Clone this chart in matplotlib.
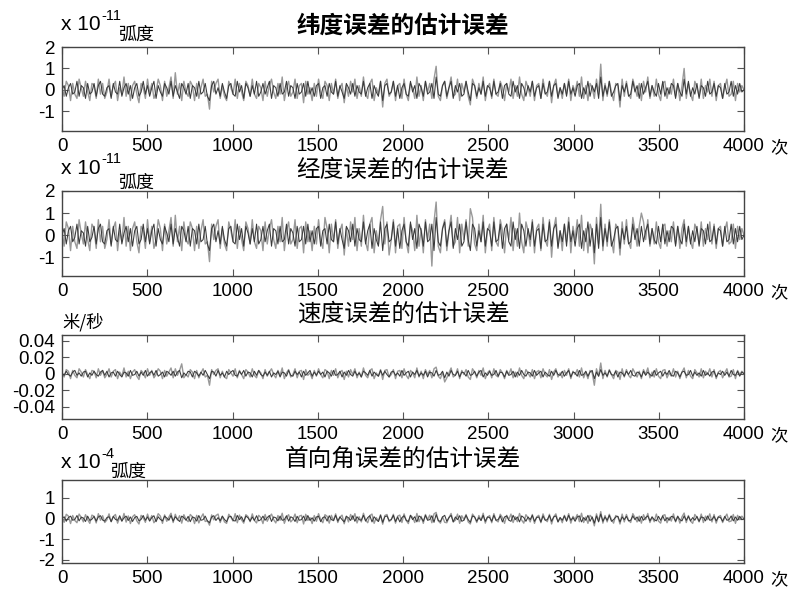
import numpy as np
import matplotlib
matplotlib.use("Agg")
import matplotlib.pyplot as plt

plt.rcParams['font.family'] = ['Liberation Sans', 'Noto Sans CJK SC', 'DejaVu Sans']
plt.rcParams['axes.unicode_minus'] = False

# ---------------- data (subsampled) ----------------
# panel 1: latitude error estimate error, units of 0.1 x 1e-11 rad
lat_gray = [
    1,-3,4,2,-5,3,-2,-4,5,1,-3,4,-1,-5,3,2,-4,5,-2,3,
    -4,-1,5,-3,2,4,-5,1,-2,6,-3,3,-5,2,4,-2,-6,3,1,-4,
    5,-2,3,-4,-1,5,2,-5,4,-3,1,6,-4,8,-2,3,-5,4,-1,-3,
    4,2,-5,3,-4,1,5,-3,-2,-9,4,-1,3,5,-4,2,-3,-5,4,1,
    -2,5,-4,3,-1,-5,4,2,-3,5,-2,-4,3,1,-5,4,-3,2,5,-1,
    -4,3,-2,6,-5,1,4,-3,-1,5,-4,2,3,-6,4,-2,1,-5,3,-3,
    5,-1,-4,4,2,-5,3,-2,5,-4,1,3,-6,2,-3,4,-1,5,-4,2,
    -3,6,-2,-4,3,5,-5,1,-2,4,-8,3,5,-3,-1,4,-5,2,3,-4,
    5,-2,-5,3,1,-4,6,-3,2,-5,4,-1,3,-4,5,11,-3,-5,2,4,
    -4,1,6,-3,-2,5,-5,3,-1,4,-3,-7,5,2,-4,3,-2,6,-5,1,
    3,-4,5,-2,-3,4,1,-5,3,-1,5,-4,2,-3,6,-2,-5,4,1,-3,
    4,-5,2,3,-4,5,-1,-3,4,-6,2,5,-3,1,-4,3,-2,5,-5,2,
    -1,4,-3,6,-4,2,-5,3,1,-4,5,-2,12,-5,3,-3,4,-1,-5,3,
    2,-8,5,-3,4,-2,-4,5,1,-3,3,-5,4,-1,6,-4,2,-3,5,-2,
    -5,3,4,-4,1,-2,5,-3,3,-5,2,10,-4,3,-2,-5,4,1,-3,5,
    -4,2,-1,5,-3,4,-5,2,3,-4,1,5,-3,-2,4,-5,3,-1,2,0]
lat_black = [
    0,2,-3,1,3,-2,-1,4,-3,2,1,-4,3,-2,-1,3,-3,2,4,-2,
    -3,1,2,-4,3,-1,-2,4,-3,1,3,-2,2,-4,1,3,-3,-1,4,-2,
    2,-3,1,4,-4,2,-1,-3,3,1,-2,4,-3,2,-1,-4,3,1,-2,3,
    -4,2,1,-3,4,-2,-1,3,-3,-5,2,4,-2,1,-3,3,-1,-4,2,3,
    -2,-3,4,-1,2,-4,3,1,-3,2,-2,4,-3,-1,3,-2,1,4,-4,2,
    1,-3,3,-2,-1,4,-3,2,1,-4,3,-2,-1,3,-3,4,-2,1,-3,2,
    3,-4,1,2,-3,3,-1,-2,4,-3,2,-1,-4,3,1,-2,3,-3,2,-1,
    -2,4,-3,1,3,-4,2,-1,-3,4,-5,2,3,-2,-1,4,-3,2,-4,1,
    3,-2,-3,4,-1,2,-4,3,1,-3,4,-2,-1,3,-4,6,-2,-3,2,4,
    -3,1,4,-4,2,-1,3,-3,-2,4,-1,-5,3,2,-3,1,-2,4,-3,2,
    1,-3,4,-2,-1,3,-4,2,3,-2,-3,4,-1,2,-4,3,1,-3,2,-1,
    4,-3,1,2,-4,3,-2,-1,4,-3,2,3,-4,1,-2,3,-3,4,-2,1,
    -3,2,3,-4,1,-2,4,-3,2,-1,3,-4,6,-3,2,-2,4,-3,-1,2,
    3,-5,2,-1,3,-3,-2,4,-1,2,-4,3,-2,1,4,-3,2,-1,-3,3,
    -2,4,-3,1,-2,3,2,-4,3,-1,-3,5,-2,4,-3,1,-2,3,-4,2,
    1,-3,4,-2,-1,3,-3,2,1,-4,3,-2,-1,4,-3,2,-2,3,-1,0]
# panel 2: longitude error estimate error, units of 0.1 x 1e-11 rad
lon_gray = [
    2,-5,6,3,-7,4,-3,-6,7,1,-4,6,-2,-7,5,3,-6,7,-3,4,
    -6,-2,7,-4,3,6,-7,2,-3,8,-5,4,-7,3,6,-3,-8,4,2,-6,
    7,-3,4,-6,-2,7,3,-7,5,-4,2,8,-5,9,-3,4,-7,6,-2,-4,
    6,3,-7,4,-6,2,7,-4,-3,-12,5,-2,4,7,-6,3,-4,-7,6,2,
    -3,7,-6,4,-2,-7,6,3,-4,7,-3,-6,4,2,-7,6,-4,3,7,-2,
    -6,4,-3,8,-7,2,6,-4,-2,7,-6,3,4,-8,6,-3,2,-7,4,-4,
    7,-2,-6,8,3,-8,5,-3,7,-6,2,5,-9,3,-5,6,-2,8,-7,3,
    -5,9,-3,-7,5,8,-8,2,-4,7,13,-4,6,-9,-2,7,-8,4,5,-6,
    8,-3,-8,5,2,-7,9,-5,3,-8,7,-2,5,-14,6,15,-5,-8,3,7,
    -7,2,9,-5,-3,8,-8,5,-2,7,-5,12,8,-4,-7,5,-3,9,-8,2,
    5,-7,8,-3,-5,7,2,-8,5,-2,8,-7,3,-5,10,-3,-8,6,2,-5,
    7,-8,3,5,-7,8,-2,-5,7,-10,3,8,-5,2,-7,5,-3,8,-8,4,
    -2,7,-5,9,-7,3,-8,5,2,-13,8,-4,14,-7,5,-5,7,-2,-8,5,
    3,-9,6,-4,7,-3,-6,8,2,-5,4,10,6,-2,7,-5,3,-4,6,-3,
    -6,4,5,-5,2,-3,6,-4,4,-6,3,7,-5,4,-3,-6,5,2,-4,6,
    -5,3,-2,6,-4,5,-6,3,4,-5,2,6,-4,-3,5,-6,4,-2,3,0]
lon_black = [
    0,3,-4,2,4,-3,-1,5,-4,2,1,-5,4,-3,-1,4,-4,3,5,-3,
    -4,2,3,-5,4,-2,-3,5,-4,1,4,-3,3,-5,2,4,-4,-2,5,-3,
    3,-4,2,5,-5,3,-2,-4,4,1,-3,5,-4,3,-1,-5,4,2,-3,4,
    -5,3,2,-4,5,-3,-2,4,-4,-7,3,5,-3,2,-4,4,-2,-5,3,4,
    -3,-4,5,-2,3,-5,4,1,-4,3,-3,5,-4,-2,4,-3,2,5,-5,3,
    2,-4,4,-3,-2,5,-4,3,1,-5,4,-3,-2,4,-4,5,-3,2,-4,3,
    4,-5,2,3,-4,5,-2,-3,6,-4,3,-2,-6,4,2,-3,5,-5,3,-2,
    -3,6,-4,2,5,-6,3,-2,-5,6,-7,3,5,-3,-2,6,-5,3,-6,2,
    5,-3,-5,6,-2,3,-6,5,2,-5,6,-3,-2,5,-7,8,-3,-5,3,6,
    -5,2,6,-6,3,-2,5,-5,-3,6,-2,-7,5,3,-5,2,-3,6,-5,3,
    2,-5,6,-3,-2,5,-6,3,5,-3,-5,6,-2,3,-6,5,2,-5,3,-2,
    6,-5,2,3,-6,5,-3,-2,6,-5,3,5,-6,2,-3,5,-5,6,-3,2,
    -5,3,5,-6,2,-3,6,-5,3,-8,5,-6,8,-5,3,-3,6,-5,-2,3,
    4,-6,3,-2,4,-4,-3,5,-2,3,-5,4,-3,2,5,-4,3,-2,-4,4,
    -3,5,-4,2,-3,4,3,-5,4,-2,-4,5,-3,4,-4,2,-3,4,-5,3,
    2,-4,5,-3,-2,4,-4,3,2,-5,4,-3,-2,5,-4,3,-3,4,-2,0]
# panel 3: velocity error estimate error, units of 1e-3 m/s
vel_gray = [
    1,-4,5,3,-6,4,-2,-5,6,2,-4,5,-1,-6,4,3,-5,6,-2,4,
    -5,-1,6,-4,3,5,-6,2,-3,7,-4,3,-6,2,5,-3,-7,4,1,-5,
    6,-2,4,-5,-1,6,3,-6,4,-3,2,7,-5,6,-2,4,12,-5,-1,-4,
    5,2,-6,4,-5,1,6,-4,-2,-14,5,-1,4,6,-5,3,-4,-6,5,1,
    -3,6,-5,4,-1,-6,5,2,-4,6,-2,-5,4,1,-6,5,-3,2,6,-1,
    -5,4,-2,7,-6,1,5,-4,-1,6,-5,3,4,-7,5,-2,1,-6,4,-3,
    6,-1,-5,5,3,-6,4,-2,6,-5,2,4,-7,3,-4,5,-1,6,-5,2,
    -4,7,-2,-5,4,6,-6,1,-3,5,-7,4,5,-4,-1,5,-6,3,4,-5,
    6,-2,-6,4,1,-5,7,-4,3,-6,5,-1,4,-5,6,8,-3,-6,2,-10,
    -5,1,7,-4,-2,6,-6,4,-1,5,-4,-7,6,2,-5,4,-2,7,-6,1,
    4,-5,6,-2,-4,5,1,-6,4,-1,6,-5,2,-4,7,-2,-6,5,1,-4,
    5,-6,2,4,-5,6,-1,-4,5,-7,2,6,-4,1,-5,4,-2,6,-6,3,
    -1,5,-4,7,-5,2,-6,4,1,-14,6,-3,13,-6,4,-4,5,-1,-6,4,
    2,-7,6,-4,5,-2,-5,6,1,-4,3,-6,5,-1,7,-5,2,-4,6,-3,
    -6,4,5,-5,1,-3,6,-4,3,-6,2,7,-5,4,-3,-6,5,1,-4,6,
    -5,3,-1,6,-4,5,-6,2,4,-5,1,6,-4,-3,5,-6,4,-1,3,0]
vel_black = [
    1,-2,3,-1,-3,2,4,-2,1,-3,2,3,-4,1,-2,3,-1,-3,2,4,
    -2,3,-4,1,2,-3,3,-1,-4,2,1,-3,4,-2,-1,3,-3,2,-2,4,
    -3,1,3,-2,4,-3,-1,2,-4,3,1,-2,3,-3,2,4,-5,1,-2,3,
    2,-4,3,1,-3,2,-2,4,-1,-6,3,2,-3,4,-2,1,-4,3,-1,2,
    4,-2,-3,3,-1,4,-3,2,1,-4,3,-2,4,-1,-3,2,-2,3,-4,1,
    -1,3,-4,2,1,-3,4,-2,-3,3,-1,2,-4,3,-2,1,4,-3,2,-2,
    3,-1,2,-4,3,1,-3,4,-2,-1,3,-4,2,-2,4,-1,-3,3,-2,1,
    -4,3,1,-2,4,-3,2,-1,-3,4,-2,3,-1,-4,2,3,-2,1,-3,4,
    -2,1,3,-4,2,-1,4,-3,1,-2,3,-4,2,1,-3,4,-2,-1,3,-5,
    2,-3,4,-1,-2,3,-4,2,1,-3,4,-2,-1,3,-3,2,4,-4,1,-2,
    3,-2,-1,4,-3,2,1,-4,3,-2,-1,3,-4,2,-2,4,-1,-3,2,1,
    -3,4,-2,1,3,-4,2,-1,-3,3,-2,4,-1,-2,3,-3,1,4,-4,2,
    1,-3,4,-2,-1,3,-3,2,4,-6,2,-3,5,-2,1,-3,4,-1,-2,3,
    -4,2,1,-3,3,-1,4,-2,-3,2,1,-4,3,-2,2,-1,-3,4,-2,1,
    3,-3,2,-1,4,-2,-3,3,1,-4,2,3,-2,-1,4,-3,2,-2,1,-3,
    4,-2,1,-3,2,3,-4,1,-1,3,-2,2,-3,4,-1,-2,3,-3,2,0]
# panel 4: heading error estimate error, units of 1e-6 rad (0.01 x 1e-4)
hdg_gray = [
    8,-18,21,12,-24,15,-9,-20,22,6,-16,19,-5,-23,17,11,-21,24,-8,14,
    -19,-6,23,-15,10,20,-22,7,-12,25,-17,13,-24,9,19,-11,-26,16,4,-18,
    22,-9,15,-20,-5,24,12,-23,18,-13,8,26,-19,21,-7,14,-22,19,-4,-15,
    20,9,-24,16,-21,5,23,-14,-10,-32,18,-6,15,22,-19,11,-16,-23,21,7,
    -12,24,-20,17,-6,-22,19,10,-15,23,-9,-21,16,5,-24,20,-13,8,22,-5,
    -21,15,-8,26,-23,6,19,-16,-4,22,-20,12,16,-26,21,-9,5,-24,15,-13,
    24,-5,-20,19,11,-22,16,-10,23,-19,7,17,-25,12,-16,20,-4,24,-21,9,
    -16,26,-7,-20,15,22,-23,5,-12,19,-27,15,20,-15,-5,21,-22,12,17,-19,
    23,-9,-24,16,6,-19,25,-15,11,-23,20,-5,17,-20,23,30,-11,-22,9,-18,
    -20,5,25,-16,-8,22,-23,14,-5,20,-16,-26,22,8,-19,15,-9,26,-22,6,
    15,-20,24,-8,-16,21,5,-23,16,-4,22,-19,9,-15,25,-7,-22,19,4,-16,
    20,-23,8,16,-20,23,-5,-15,21,-26,9,23,-16,5,-20,16,-9,24,-22,11,
    -4,20,-15,26,-19,8,-23,16,5,-35,23,-12,34,-22,15,-16,21,-5,-22,15,
    9,-26,22,-16,20,-8,-19,24,5,-16,12,-22,19,-5,25,-19,8,-15,22,-12,
    -22,15,19,-20,6,-12,23,-16,12,-22,9,27,-19,15,-12,-23,20,5,-16,22,
    -19,12,-5,23,-16,20,-22,9,15,-19,5,22,-15,-12,20,-23,16,-5,12,0]
hdg_black = [
    0,9,-13,5,12,-8,-4,15,-11,7,3,-14,12,-9,-3,11,-12,8,14,-7,
    -12,5,9,-15,11,-4,-8,14,-12,4,12,-9,8,-14,5,11,-11,-4,15,-8,
    8,-12,5,14,-15,9,-4,-11,12,3,-8,15,-12,9,-3,-14,12,5,-8,11,
    -15,8,4,-12,15,-8,-5,12,-11,-20,8,14,-9,5,-11,12,-4,-15,8,11,
    -8,-12,15,-5,9,-14,12,4,-12,8,-9,14,-11,-5,12,-8,5,15,-14,8,
    4,-11,12,-8,-5,14,-12,9,3,-14,11,-8,-5,12,-11,15,-9,4,-12,8,
    11,-15,5,9,-12,14,-5,-9,16,-12,8,-5,-16,11,4,-9,14,-13,9,-5,
    -8,16,-12,5,14,-16,9,-5,-14,16,-18,9,13,-9,-5,16,-14,8,-16,5,
    14,-8,-14,16,-5,9,-16,13,5,-13,16,-8,-5,14,-18,20,-9,-14,8,16,
    -13,5,16,-16,8,-5,14,-13,-8,16,-5,-18,13,8,-13,5,-9,16,-13,8,
    5,-13,16,-8,-5,13,-16,8,13,-8,-13,16,-5,8,-16,13,5,-13,8,-5,
    16,-13,5,8,-16,13,-8,-5,16,-13,8,13,-16,5,-8,13,-13,16,-8,5,
    -13,8,13,-16,5,-8,16,-13,8,-22,13,-16,22,-13,8,-8,16,-13,-5,8,
    11,-16,8,-5,11,-11,-8,13,-5,8,-13,11,-8,5,13,-11,8,-5,-11,11,
    -8,13,-11,5,-8,11,8,-13,11,-5,-11,13,-8,11,-11,5,-8,11,-13,8,
    5,-11,13,-8,-5,11,-11,8,5,-13,11,-8,-5,13,-11,8,-8,11,-5,0]

titles = ['纬度误差的估计误差', '经度误差的估计误差', '速度误差的估计误差', '首向角误差的估计误差']
x_ticks = [0, 500, 1000, 1500, 2000, 2500, 3000, 3500, 4000]
y_ticks = [[-1, 0, 1, 2], [-1, 0, 1, 2], [-0.04, -0.02, 0, 0.02, 0.04], [-2, -1, 0, 1]]
y_ticklabels = [['-1', '0', '1', '2'], ['-1', '0', '1', '2'],
                ['-0.04', '-0.02', '0', '0.02', '0.04'], ['-2', '-1', '0', '1']]

series = [
    (np.array(lat_gray) * 0.1, np.array(lat_black) * 0.1),
    (np.array(lon_gray) * 0.1, np.array(lon_black) * 0.1),
    (np.array(vel_gray) * 0.001, np.array(vel_black) * 0.001),
    (np.array(hdg_gray) * 0.01, np.array(hdg_black) * 0.01),
]
ylims = [(-1.92, 2.0), (-1.85, 2.0), (-0.055, 0.047), (-2.15, 1.87)]

# ---------------- layout ----------------
W, H = 793, 589
fig = plt.figure(figsize=(W / 100, H / 100), dpi=100)

def px_rect(left, top, right, bottom):
    return [left / W, 1 - bottom / H, (right - left) / W, (bottom - top) / H]

rects = [(62, 47, 744, 131), (62, 191, 744, 276), (62, 335, 744, 419), (62, 480, 744, 563)]

def fx(px):
    return px / W

def fy(py):
    return 1 - py / H

cjk = ['Noto Sans CJK SC', 'DejaVu Sans']

for i, (r, (g, b)) in enumerate(zip(rects, series)):
    ax = fig.add_axes(px_rect(*r))
    xg = np.linspace(0, 4000, len(g))
    xb = np.linspace(0, 4000, len(b))
    ax.plot(xg, g, color='#999999', lw=1.0)
    ax.plot(xb, b, color='#3a3a3a', lw=0.75)
    ax.set_xlim(0, 4000)
    ax.set_ylim(*ylims[i])
    ax.set_xticks(x_ticks)
    ax.set_xticklabels([str(t) for t in x_ticks])
    ax.set_yticks(y_ticks[i])
    ax.set_yticklabels(y_ticklabels[i])
    ax.tick_params(direction='in', top=True, right=True, length=5, width=0.8,
                   labelsize=13.5, pad=5, color='#555555')
    for s in ax.spines.values():
        s.set_color('#444444')
        s.set_linewidth(1.0)
    ax.annotate(titles[i], xy=(0.5, 1.0), xycoords='axes fraction',
                xytext=(0, 15), textcoords='offset points', ha='center', va='center',
                fontsize=17, family=cjk, fontweight='bold' if i == 0 else 'normal')
    ax.annotate('次', xy=(1.0, 0.0), xycoords='axes fraction',
                xytext=(19, -11.5), textcoords='offset points', ha='left', va='center',
                fontsize=12.5, family=cjk)

# unit labels at top-left of each panel
unit_rows = [(25, 16, 35, '-11', 118), (168, 159, 183, '-11', 118), (463, 454, 472, '-4', 110)]
for yb, ys, yu, ex, xu in unit_rows:
    fig.text(fx(61), fy(yb), 'x 10', fontsize=15, ha='left', va='center')
    fig.text(fx(101), fy(ys), ex, fontsize=10.5, ha='left', va='center')
    fig.text(fx(xu), fy(yu), '弧度', fontsize=13, ha='left', va='center', family=cjk)
fig.text(fx(62), fy(322), '米/秒', fontsize=12.5, ha='left', va='center', family=cjk)

fig.savefig('out.png', dpi=100)
